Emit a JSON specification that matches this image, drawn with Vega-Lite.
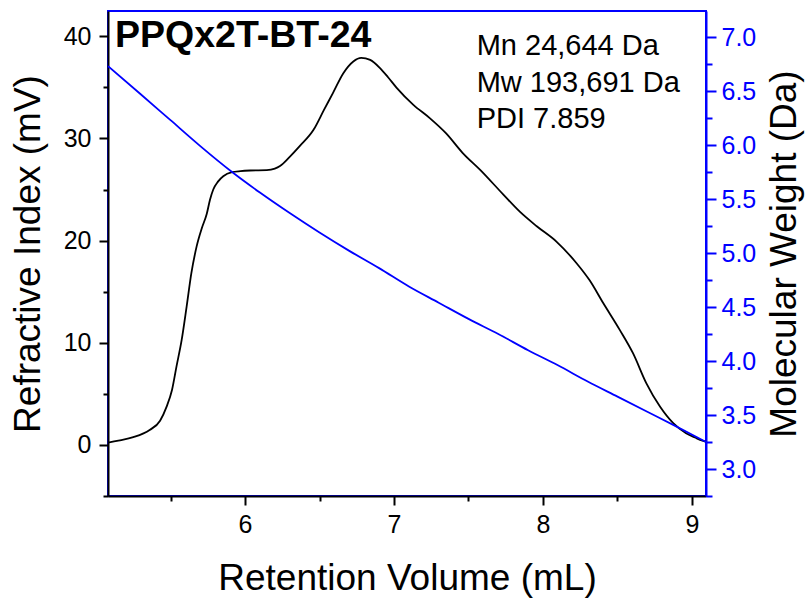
{
  "$schema": "https://vega.github.io/schema/vega-lite/v6.json",
  "width": 598,
  "height": 485,
  "autosize": {"type": "none"},
  "padding": {"left": 108, "top": 11, "right": 105, "bottom": 102},
  "background": "white",
  "config": {
    "view": {"stroke": "#0000ff", "strokeWidth": 2},
    "font": "Liberation Sans",
    "axis": {"labelFont": "Liberation Sans", "titleFont": "Liberation Sans", "grid": false, "titleFontWeight": "normal"}
  },
  "datasets": {
    "ri": [
      {"v": 5.081, "ri": 0.2}, {"v": 5.15, "ri": 0.4}, {"v": 5.25, "ri": 0.73}, {"v": 5.36, "ri": 1.44},
      {"v": 5.43, "ri": 2.35}, {"v": 5.474, "ri": 3.73}, {"v": 5.51, "ri": 5.36}, {"v": 5.54, "ri": 7.65},
      {"v": 5.575, "ri": 10.26}, {"v": 5.608, "ri": 13.5}, {"v": 5.64, "ri": 16.8}, {"v": 5.675, "ri": 19.4},
      {"v": 5.71, "ri": 21.2}, {"v": 5.743, "ri": 22.6}, {"v": 5.765, "ri": 24.0}, {"v": 5.787, "ri": 25.0},
      {"v": 5.82, "ri": 25.8}, {"v": 5.854, "ri": 26.3}, {"v": 5.913, "ri": 26.7}, {"v": 5.97, "ri": 26.8},
      {"v": 6.034, "ri": 26.86}, {"v": 6.146, "ri": 26.9}, {"v": 6.2, "ri": 27.05}, {"v": 6.235, "ri": 27.3},
      {"v": 6.3, "ri": 28.2}, {"v": 6.37, "ri": 29.3}, {"v": 6.46, "ri": 30.85}, {"v": 6.53, "ri": 32.8},
      {"v": 6.59, "ri": 34.45}, {"v": 6.66, "ri": 36.4}, {"v": 6.727, "ri": 37.55}, {"v": 6.78, "ri": 37.9},
      {"v": 6.84, "ri": 37.7}, {"v": 6.906, "ri": 36.9}, {"v": 6.96, "ri": 36.0}, {"v": 7.018, "ri": 34.96},
      {"v": 7.13, "ri": 33.3}, {"v": 7.24, "ri": 32.0}, {"v": 7.35, "ri": 30.5}, {"v": 7.46, "ri": 28.6},
      {"v": 7.58, "ri": 26.9}, {"v": 7.734, "ri": 24.5}, {"v": 7.846, "ri": 22.8}, {"v": 7.958, "ri": 21.4},
      {"v": 8.09, "ri": 19.9}, {"v": 8.224, "ri": 17.8}, {"v": 8.313, "ri": 16.1}, {"v": 8.403, "ri": 13.9},
      {"v": 8.515, "ri": 11.25}, {"v": 8.604, "ri": 8.96}, {"v": 8.694, "ri": 6.0}, {"v": 8.785, "ri": 3.73},
      {"v": 8.874, "ri": 2.1}, {"v": 8.96, "ri": 1.12}, {"v": 9.02, "ri": 0.7}, {"v": 9.07, "ri": 0.39},
      {"v": 9.094, "ri": 0.3}
    ],
    "mw": [
      {"v": 5.0805, "mw": 6.73}, {"v": 5.3, "mw": 6.47}, {"v": 5.5, "mw": 6.23}, {"v": 5.7, "mw": 5.99},
      {"v": 5.913, "mw": 5.75}, {"v": 6.1, "mw": 5.56}, {"v": 6.3, "mw": 5.37}, {"v": 6.5, "mw": 5.19},
      {"v": 6.7, "mw": 5.02}, {"v": 6.9, "mw": 4.86}, {"v": 7.1, "mw": 4.69}, {"v": 7.3, "mw": 4.54},
      {"v": 7.5, "mw": 4.39}, {"v": 7.7, "mw": 4.25}, {"v": 7.9, "mw": 4.1}, {"v": 8.1, "mw": 3.96},
      {"v": 8.3, "mw": 3.81}, {"v": 8.5, "mw": 3.67}, {"v": 8.7, "mw": 3.53}, {"v": 8.9, "mw": 3.39},
      {"v": 9.094, "mw": 3.25}
    ],
    "title": [
      {"v": 5.1275, "ri": 38.92, "label": "PPQx2T-BT-24"}
    ],
    "notes": [
      {"v": 7.555, "ri": 38.2, "label": "Mn 24,644 Da"},
      {"v": 7.555, "ri": 34.6, "label": "Mw 193,691 Da"},
      {"v": 7.555, "ri": 31.0, "label": "PDI 7.859"}
    ]
  },
  "layer": [
    {
      "layer": [
        {
          "data": {"name": "ri"},
          "mark": {"type": "line", "color": "black", "strokeWidth": 1.8, "clip": true, "interpolate": "monotone"},
          "encoding": {
            "x": {
              "field": "v", "type": "quantitative",
              "scale": {"domain": [5.0805, 9.094], "nice": false, "zero": false},
              "axis": {
                "title": "Retention Volume (mL)",
                "values": [5.5, 6, 6.5, 7, 7.5, 8, 8.5, 9],
                "format": ".0f",
                "labelExpr": "datum.value % 1 === 0 ? datum.label : ''",
                "tickSize": {"condition": {"test": "datum.value % 1 === 0", "value": 9}, "value": 5},
                "domainColor": "black", "domainWidth": 2, "tickColor": "black", "tickWidth": 2,
                "labelColor": "black", "labelFontSize": 25, "labelPadding": 7,
                "titleColor": "black", "titleFontSize": 37, "titlePadding": 23
              }
            },
            "y": {
              "field": "ri", "type": "quantitative",
              "scale": {"domain": [-5.03, 42.49], "nice": false, "zero": false},
              "axis": {
                "title": "Refractive Index (mV)",
                "values": [-5, 0, 5, 10, 15, 20, 25, 30, 35, 40],
                "format": ".0f",
                "labelExpr": "datum.value % 10 === 0 ? datum.label : ''",
                "tickSize": {"condition": {"test": "datum.value % 10 === 0", "value": 9}, "value": 5},
                "domainColor": "black", "domainWidth": 2, "tickColor": "black", "tickWidth": 2,
                "labelColor": "black", "labelFontSize": 25, "labelPadding": 8,
                "titleColor": "black", "titleFontSize": 37, "titlePadding": 16
              }
            }
          }
        },
        {
          "data": {"name": "title"},
          "mark": {"type": "text", "align": "left", "baseline": "alphabetic", "fontSize": 37.5, "fontWeight": "bold", "font": "Liberation Sans", "color": "black"},
          "encoding": {
            "x": {"field": "v", "type": "quantitative"},
            "y": {"field": "ri", "type": "quantitative"},
            "text": {"field": "label"}
          }
        },
        {
          "data": {"name": "notes"},
          "mark": {"type": "text", "align": "left", "baseline": "alphabetic", "fontSize": 29, "font": "Liberation Sans", "color": "black"},
          "encoding": {
            "x": {"field": "v", "type": "quantitative"},
            "y": {"field": "ri", "type": "quantitative"},
            "text": {"field": "label"}
          }
        }
      ]
    },
    {
      "data": {"name": "mw"},
      "mark": {"type": "line", "color": "#0000ff", "strokeWidth": 1.8, "clip": true, "interpolate": "monotone"},
      "encoding": {
        "x": {"field": "v", "type": "quantitative"},
        "y": {
          "field": "mw", "type": "quantitative",
          "scale": {"domain": [2.75, 7.241], "nice": false, "zero": false},
          "axis": {
            "orient": "right",
            "title": "Molecular Weight (Da)",
            "values": [2.75, 3, 3.25, 3.5, 3.75, 4, 4.25, 4.5, 4.75, 5, 5.25, 5.5, 5.75, 6, 6.25, 6.5, 6.75, 7],
            "format": ".1f",
            "labelExpr": "(datum.value * 2) % 1 === 0 ? datum.label : ''",
            "tickSize": {"condition": {"test": "(datum.value * 2) % 1 === 0", "value": 10}, "value": 6},
            "domainColor": "#0000ff", "domainWidth": 2, "tickColor": "#0000ff", "tickWidth": 2,
            "labelColor": "#0000ff", "labelFontSize": 25, "labelPadding": 5,
            "titleColor": "black", "titleFontSize": 37, "titlePadding": 11,
            "titleAngle": 270, "titleBaseline": "top"
          }
        }
      }
    }
  ],
  "resolve": {"scale": {"y": "independent"}}
}
